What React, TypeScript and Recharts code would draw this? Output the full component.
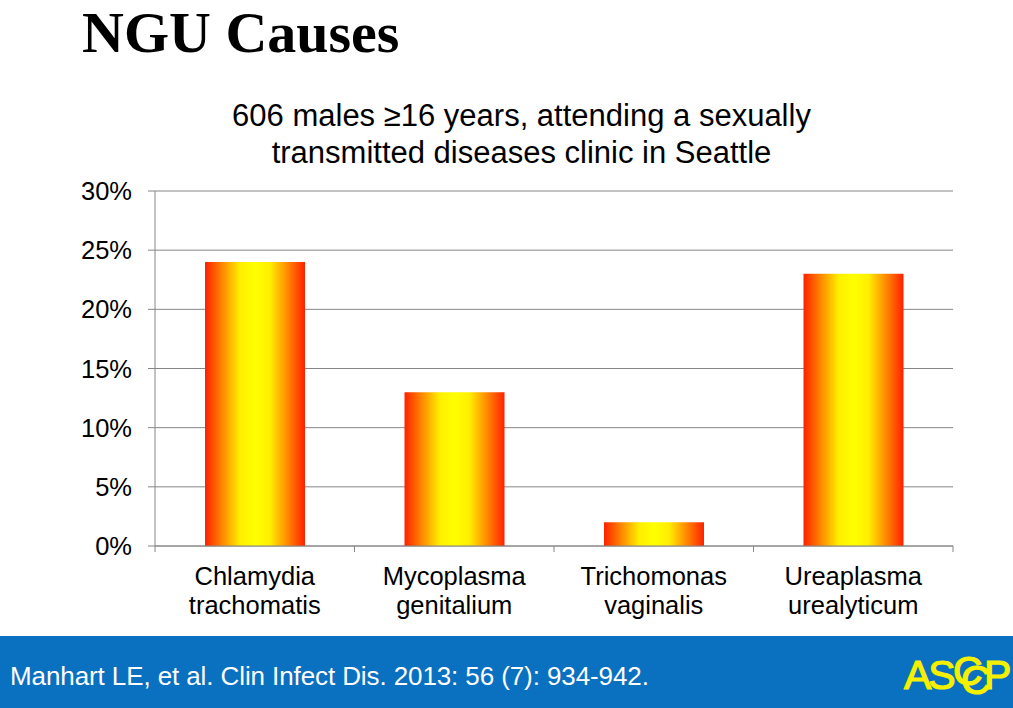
import { BarChart, Bar, XAxis, YAxis, CartesianGrid } from 'recharts'

const categories = ['Chlamydia trachomatis', 'Mycoplasma genitalium', 'Trichomonas vaginalis', 'Ureaplasma urealyticum']
const percentages = [24, 13, 2, 23]
const yTicks = [0, 5, 10, 15, 20, 25, 30]

const data = categories.map((name, i) => ({ name, value: percentages[i] }))

const axisGray = '#868686'
const sans = "Arial, 'Liberation Sans', sans-serif"
const plotWidth = 798
const band = plotWidth / categories.length

function CategoryTick(props: any) {
  const { x, y, payload, index } = props
  const words = String(payload.value).split(' ')
  return (
    <g>
      <line x1={x + band / 2} y1={y - 8} x2={x + band / 2} y2={y - 2} stroke={axisGray} />
      {index === 0 && <line x1={x - band / 2} y1={y - 8} x2={x - band / 2} y2={y - 2} stroke={axisGray} />}
      <text x={x} y={y} textAnchor="middle" fill="#000" fontSize={25.5} fontFamily={sans}>
        {words.map((w, i) => (
          <tspan key={i} x={x} dy={i === 0 ? 31 : 29}>{w}</tspan>
        ))}
      </text>
    </g>
  )
}

export default function App() {
  return (
    <div style={{ position: 'absolute', left: 0, top: 0, width: 1013, height: 708, background: '#fff', overflow: 'hidden', fontFamily: sans }}>
      <div style={{ position: 'absolute', left: 82, top: 0, lineHeight: '65px', fontFamily: "'Liberation Serif', serif", fontWeight: 'bold', fontSize: 58, color: '#000', whiteSpace: 'nowrap' }}>
        NGU Causes
      </div>
      <div style={{ position: 'absolute', left: 0, width: 1043, top: 97, textAlign: 'center', fontSize: 31, lineHeight: '37px', color: '#000' }}>
        606 males ≥16 years, attending a sexually<br />transmitted diseases clinic in Seattle
      </div>
      <div style={{ position: 'absolute', left: 0, top: 0 }}>
        <BarChart width={1013} height={636} data={data} margin={{ top: 191, right: 60, left: 0, bottom: 30 }}>
          <defs>
            <linearGradient id="barFill" x1="0" y1="0" x2="1" y2="0">
              <stop offset="0%" stopColor="#FF2000" />
              <stop offset="15%" stopColor="#FF7A00" />
              <stop offset="35%" stopColor="#FFEE00" />
              <stop offset="50%" stopColor="#FFFF00" />
              <stop offset="65%" stopColor="#FFEE00" />
              <stop offset="85%" stopColor="#FF7A00" />
              <stop offset="100%" stopColor="#FF2000" />
            </linearGradient>
          </defs>
          <CartesianGrid vertical={false} stroke={axisGray} strokeWidth={1} />
          <XAxis dataKey="name" height={60} tickLine={false} axisLine={{ stroke: axisGray }} interval={0} tick={<CategoryTick />} />
          <YAxis
            width={155}
            domain={[0, 30]}
            ticks={yTicks}
            tickFormatter={(v) => `${v}%`}
            tickSize={7}
            tickMargin={16}
            axisLine={{ stroke: axisGray }}
            tickLine={{ stroke: axisGray }}
            tick={{ fill: '#000', fontSize: 25.5, fontFamily: sans }}
          />
          <Bar dataKey="value" fill="url(#barFill)" barSize={100} isAnimationActive={false} />
        </BarChart>
      </div>
      <div style={{ position: 'absolute', left: 0, top: 636, width: 1013, height: 72, background: '#0A70C0' }}>
        <div style={{ position: 'absolute', left: 10, top: 25, color: '#fff', fontSize: 26, whiteSpace: 'nowrap', letterSpacing: -0.1 }}>
          Manhart LE, et al. Clin Infect Dis. 2013: 56 (7): 934-942.
        </div>
        <div style={{ position: 'absolute', left: 904, top: 15, color: '#F4F000', fontSize: 41, lineHeight: '48px', whiteSpace: 'nowrap', height: 48, width: 109, WebkitTextStroke: '1.2px #F4F000' }}>
          <span style={{ letterSpacing: -3 }}>AS</span>
          <span style={{ position: 'absolute', left: 49, top: -4 }}>C</span>
          <span style={{ position: 'absolute', left: 57, top: 5 }}>C</span>
          <span style={{ position: 'absolute', left: 80, top: 0 }}>P</span>
        </div>
      </div>
    </div>
  )
}
